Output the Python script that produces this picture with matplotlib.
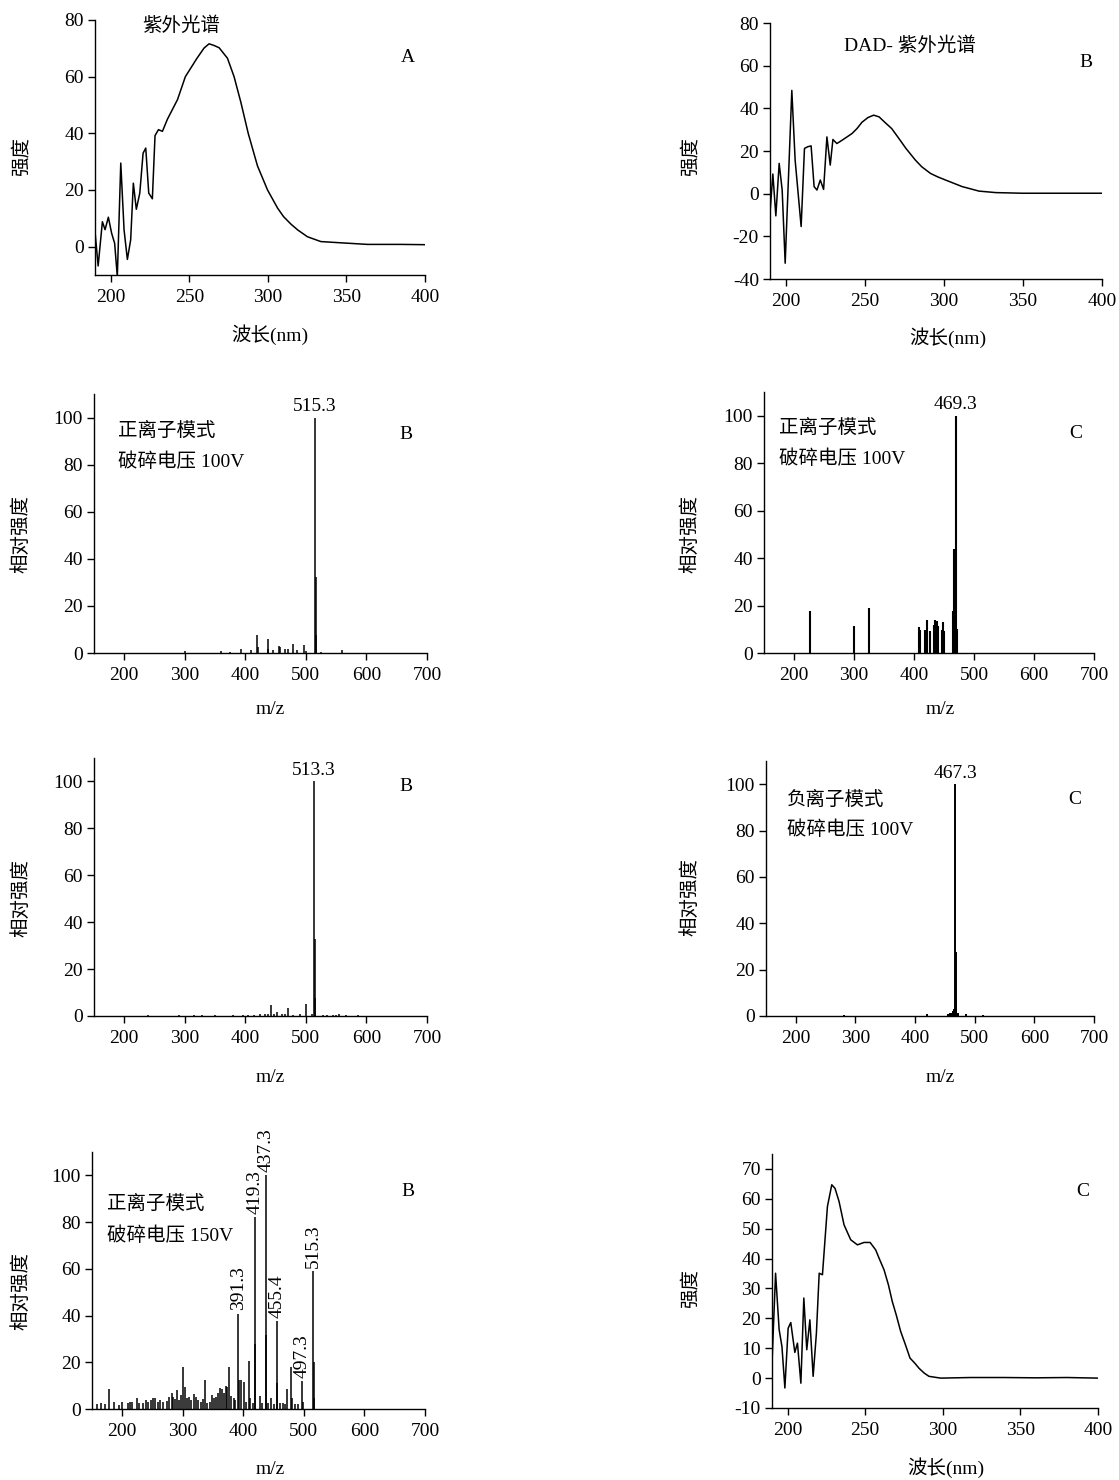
import matplotlib
matplotlib.use("Agg")
import matplotlib.pyplot as plt

plt.rcParams['font.family'] = ['Liberation Serif', 'Noto Sans CJK SC']
plt.rcParams['axes.unicode_minus'] = False

W, H = 1119, 1480

# ---------------- data ----------------
# UV spectrum A
wl_A = [190, 192, 194.7, 196.4, 198.5, 200.6, 202.5, 204.2, 206.4, 208.5, 210.6, 212.7,
        214.4, 216.3, 218.5, 220.6, 222.3, 224.2, 226.5, 228.2, 230.4, 232.9, 236.1,
        242.5, 247.5, 254.9, 259.4, 262.6, 265.8, 269, 274.3, 278.5, 282.8, 287.5, 293.4,
        299.8, 306.2, 310, 314.6, 319, 325.2, 333.7, 342.3, 363.5, 384.7, 400]
int_A = [5.3, -6.8, 8.8, 6, 10.4, 4.7, 1.2, -10.6, 29.5, 5.9, -4.5, 2.4,
         22.4, 13.2, 18.9, 33, 34.8, 18.9, 16.9, 39.2, 41.3, 40.7, 45,
         51.9, 60, 66.5, 70.1, 71.6, 71, 70.2, 66.5, 60, 51, 40, 28.5,
         20, 13.6, 10.6, 8, 5.9, 3.5, 1.8, 1.5, 0.8, 0.8, 0.7]

# DAD-UV spectrum B
wl_B = [190, 191.8, 193.7, 195.8, 197.7, 199.6, 203.8, 205.9, 209.7, 211.8, 213.9, 216,
        217.9, 219.7, 221.8, 223.9, 226, 228.1, 229.8, 232.3, 235.5, 241.9, 245, 248.2,
        252, 255.6, 259, 263, 267, 271.5, 276, 282, 286, 291.5, 296, 301, 311.6, 322.2,
        332.8, 349.7, 400]
int_B = [-9, 9.2, -10.4, 14.2, 1.7, -32.6, 48.4, 15.7, -15.4, 21.2, 22, 22.4,
         3.3, 1.7, 6.4, 2, 26.6, 13.4, 25.4, 23.5, 25, 28.2, 30.5, 33.5,
         35.7, 36.8, 36, 33.2, 30.5, 25.9, 21.2, 15.7, 12.6, 9.5, 7.9, 6.4, 3.3, 1.2,
         0.5, 0.2, 0.2]

# UV spectrum C
wl_C = [190, 192.3, 194.6, 196.4, 198.3, 200.4, 202.1, 204.7, 206.4, 208.6, 210.5, 212.4,
        214.4, 216.5, 218.6, 220.4, 222.5, 225.7, 228.5, 230.6, 233.2, 236.4, 240.7,
        245, 249.3, 253.2, 256.8, 259, 262.2, 265, 267.5, 270, 272.9, 276, 278.9, 282,
        284.7, 288, 291.1, 298.6, 317.9, 339.3, 360, 380, 400]
int_C = [5, 35.1, 16.2, 10.6, -3.3, 16.7, 18.6, 8.6, 11.7, -1.7, 26.8, 9.5,
         19.5, 0.6, 15, 35.1, 34.6, 57.4, 64.7, 63.5, 59.1, 51.3, 46.3,
         44.6, 45.4, 45.4, 42.9, 40.1, 36.2, 31.2, 25.6, 21.2, 15.6, 11.1, 6.7, 5,
         3.3, 1.7, 0.6, 0, 0.2, 0.2, 0.1, 0.2, 0]

# MS: row 2 left (positive, 100V, B)
mz_2L = [300, 360, 375, 392, 410, 419.5, 420.5, 437, 438, 445, 455, 457, 465, 470, 478,
         485, 497, 500, 515.3, 516.3, 517.3, 525, 560]
ri_2L = [0.9, 0.7, 0.6, 1.8, 1.2, 7.8, 2.5, 5.8, 1.5, 1.2, 3, 2.5, 1.5, 1.5, 4,
         1.2, 3.5, 1, 100, 32.3, 7.5, 0.6, 1.2]

# MS: row 2 right (positive, 100V, C)
mz_2R = [226.7, 300, 325, 408, 410, 419, 421, 426, 433, 435, 438, 440, 446, 448, 450,
         465, 467, 469.3, 471]
ri_2R = [17.6, 11.3, 18.8, 10.9, 9.8, 9.9, 13.7, 9.2, 11.9, 14, 13.4, 11.3, 9.5, 13, 9.2,
         17.6, 44, 100, 10.2]

# MS: row 3 left (B)
mz_3L = [240, 290, 315, 328, 350, 380, 396, 405, 415, 425, 432, 437, 443, 448, 452.5,
         460, 465, 469.6, 478, 490, 500, 510, 513.3, 514.3, 515.3, 528, 535, 545, 550,
         555, 567, 586]
ri_3L = [0.4, 0.4, 0.4, 0.5, 0.5, 0.5, 0.6, 0.6, 0.6, 0.7, 0.8, 0.8, 4.9, 1, 1.6,
         0.8, 0.8, 3.3, 0.6, 0.8, 5.1, 0.8, 100, 33, 7.6, 0.6, 0.5, 0.6, 0.6,
         0.7, 0.5, 0.5]

# MS: row 3 right (negative, 100V, C)
mz_3R = [280, 420, 455, 458, 461, 463, 465, 467.3, 468.3, 469.3, 472, 485, 514]
ri_3R = [0.5, 0.7, 1, 1.3, 1.5, 2, 3, 100, 27.5, 6.5, 1.5, 0.8, 0.6]

# MS: row 4 left (positive, 150V, B)
mz_4L = [150.8, 159, 164.6, 171, 178.5, 186.7, 195, 199.4, 208.8, 212.7, 215.5, 224.3,
         228.2, 233.7, 239.2, 243, 247.5, 251.4, 254.7, 258.6, 263, 268, 273.5, 277.9,
         281.8, 284.5, 287.8, 291.2, 294.5, 297.8, 300.6, 303.3, 306.6, 309.9, 313.8,
         318.2, 321, 324.9, 329.3, 333.1, 336.5, 339.8, 345.3, 348.6, 352, 355.2, 358.6,
         360.8, 364.1, 367.4, 370.7, 372.9, 376.8, 380.1, 384, 386.7, 391.3, 393.4,
         396.7, 400.6, 405, 408.8, 411.6, 416, 419.3, 420.0, 427.1, 430.4, 437.3, 438.0,
         440.3, 446.4, 450.8, 455.4, 456.1, 461.3, 465.7, 468.4, 472.4, 479, 480.2, 485,
         490, 497.3, 498.3, 515.3, 516.0, 517.0]
ri_4L = [3.4, 2, 2.4, 2, 8.6, 3.1, 1.7, 3.1, 2.4, 3.1, 3.1, 4.6,
         2.4, 2.7, 3.9, 3.1, 3.9, 4.6, 4.6, 3.1, 3.9, 3.1, 3.6, 5.3,
         6.7, 5.3, 4.1, 8.1, 3.9, 6, 18.1, 9.6, 4.6, 5.3, 3.9,
         6.4, 5.3, 3.9, 3.1, 4.1, 12.4, 2.4, 3.1, 6, 4.6, 5.3, 6.7,
         8.9, 8.4, 6.7, 9.9, 9.6, 18.1, 5.6, 4.6, 3.9, 40.7, 12.4,
         12.4, 11.7, 3.1, 20.6, 4.6, 2.4, 82, 28, 5.6, 2.4, 100, 31.5,
         2.4, 4.5, 2, 37.5, 11, 2.4, 2.4, 2, 8.4, 17.9, 4.6, 2,
         2, 11.8, 3, 59, 20, 4.6]
labels_4L = ["391.3", "419.3", "437.3", "455.4", "497.3", "515.3"]

uv_xticks = [200, 250, 300, 350, 400]
ms_xticks = [200, 300, 400, 500, 600, 700]
ms_yticks = [0, 20, 40, 60, 80, 100]

# ---------------- figure ----------------
fig = plt.figure(figsize=(W / 100, H / 100), dpi=100)

CJK = 'Noto Sans CJK SC'
MIX = ['Liberation Serif', 'Noto Sans CJK SC']
FS = 14


def make_ax(l, r, t, b):
    ax = fig.add_axes([l / W, 1 - b / H, (r - l) / W, (b - t) / H])
    for s in ['top', 'right']:
        ax.spines[s].set_visible(False)
    for s in ['left', 'bottom']:
        ax.spines[s].set_linewidth(1.0)
    ax.tick_params(direction='out', length=5, width=1.0, labelsize=FS)
    ax.tick_params(axis='x', pad=5)
    ax.tick_params(axis='y', pad=3)
    return ax


def ptext(x, y, s, **kw):
    fig.text(x / W, 1 - y / H, s, ha='center', va='center', fontsize=FS, **kw)


def style_ticks(ax):
    for lab in ax.get_xticklabels() + ax.get_yticklabels():
        lab.set_fontfamily('Liberation Serif')


# Panel A (UV)
ax = make_ax(95, 425, 20, 275)
ax.plot(wl_A, int_A, color='black', lw=1.1)
ax.set_xlim(190, 400)
ax.set_ylim(-10, 80)
ax.set_xticks(uv_xticks)
ax.set_yticks([0, 20, 40, 60, 80])
style_ticks(ax)
ax.text(244.6, 77.9, '紫外光谱', family=CJK, fontsize=FS, ha='center', va='center')
ax.text(389, 66.9, 'A', fontsize=FS, ha='center', va='center')
ptext(21, 156, '强度', family=CJK, rotation=90)
ptext(270, 335, '波长(nm)', family=MIX)

# Panel B (DAD-UV)
ax = make_ax(770, 1102, 23, 279)
ax.plot(wl_B, int_B, color='black', lw=1.1)
ax.set_xlim(190, 400)
ax.set_ylim(-40, 80)
ax.set_xticks(uv_xticks)
ax.set_yticks([-40, -20, 0, 20, 40, 60, 80])
style_ticks(ax)
ax.text(237, 69.2, 'DAD- 紫外光谱', family=MIX, fontsize=FS, ha='left', va='center')
ax.text(389.6, 61.7, 'B', fontsize=FS, ha='center', va='center')
ptext(690, 157, '强度', family=CJK, rotation=90)
ptext(948, 338, '波长(nm)', family=MIX)


def ms_panel(l, r, t, b, mz, ri, lw=1.1):
    ax = make_ax(l, r, t, b)
    ax.vlines(mz, 0, ri, color='black', lw=lw)
    ax.set_xlim(150, 700)
    ax.set_ylim(0, 110)
    ax.set_xticks(ms_xticks)
    ax.set_yticks(ms_yticks)
    style_ticks(ax)
    return ax


# Row 2 left
ax = ms_panel(94, 427, 394, 653, mz_2L, ri_2L)
ax.text(515.3, 101, '515.3', fontsize=FS, ha='center', va='bottom')
ax.text(190, 94.5, '正离子模式', family=CJK, fontsize=FS, ha='left', va='center')
ax.text(190, 81.4, '破碎电压 100V', family=MIX, fontsize=FS, ha='left', va='center')
ax.text(666, 92.8, 'B', fontsize=FS, ha='center', va='center')
ptext(21, 534, '相对强度', family=CJK, rotation=90)
ptext(270, 710, 'm/z')

# Row 2 right
ax = ms_panel(764, 1094, 392, 653, mz_2R, ri_2R, lw=1.5)
ax.text(469.3, 101, '469.3', fontsize=FS, ha='center', va='bottom')
ax.text(175, 95, '正离子模式', family=CJK, fontsize=FS, ha='left', va='center')
ax.text(175, 82, '破碎电压 100V', family=MIX, fontsize=FS, ha='left', va='center')
ax.text(670, 92.4, 'C', fontsize=FS, ha='center', va='center')
ptext(690, 534, '相对强度', family=CJK, rotation=90)
ptext(940, 710, 'm/z')

# Row 3 left
ax = ms_panel(94, 427, 758, 1016, mz_3L, ri_3L)
ax.text(513.3, 101, '513.3', fontsize=FS, ha='center', va='bottom')
ax.text(666, 97.9, 'B', fontsize=FS, ha='center', va='center')
ptext(21, 898, '相对强度', family=CJK, rotation=90)
ptext(270, 1078, 'm/z')

# Row 3 right
ax = ms_panel(766, 1094, 761, 1016, mz_3R, ri_3R, lw=1.4)
ax.text(467.3, 101, '467.3', fontsize=FS, ha='center', va='bottom')
ax.text(185, 93.5, '负离子模式', family=CJK, fontsize=FS, ha='left', va='center')
ax.text(185, 80.2, '破碎电压 100V', family=MIX, fontsize=FS, ha='left', va='center')
ax.text(668, 93.5, 'C', fontsize=FS, ha='center', va='center')
ptext(690, 897, '相对强度', family=CJK, rotation=90)
ptext(940, 1078, 'm/z')

# Row 4 left
ax = ms_panel(92, 425, 1152, 1409, mz_4L, ri_4L)
for lab in labels_4L:
    v = float(lab)
    yv = ri_4L[mz_4L.index(v)]
    ax.text(v, yv + 1.5, lab, fontsize=FS, rotation=90, ha='center', va='bottom')
ax.text(175, 88, '正离子模式', family=CJK, fontsize=FS, ha='left', va='center')
ax.text(175, 74.2, '破碎电压 150V', family=MIX, fontsize=FS, ha='left', va='center')
ax.text(671.5, 93, 'B', fontsize=FS, ha='center', va='center')
ptext(21, 1291, '相对强度', family=CJK, rotation=90)
ptext(270, 1469, 'm/z')

# Row 4 right (UV C)
ax = make_ax(772, 1098, 1154, 1408)
ax.plot(wl_C, int_C, color='black', lw=1.1)
ax.set_xlim(190, 400)
ax.set_ylim(-10, 75)
ax.set_xticks(uv_xticks)
ax.set_yticks([-10, 0, 10, 20, 30, 40, 50, 60, 70])
style_ticks(ax)
ax.text(390, 62.3, 'C', fontsize=FS, ha='center', va='center')
ptext(690, 1288, '强度', family=CJK, rotation=90)
ptext(946, 1468, '波长(nm)', family=MIX)

fig.savefig('out.png', dpi=100)
